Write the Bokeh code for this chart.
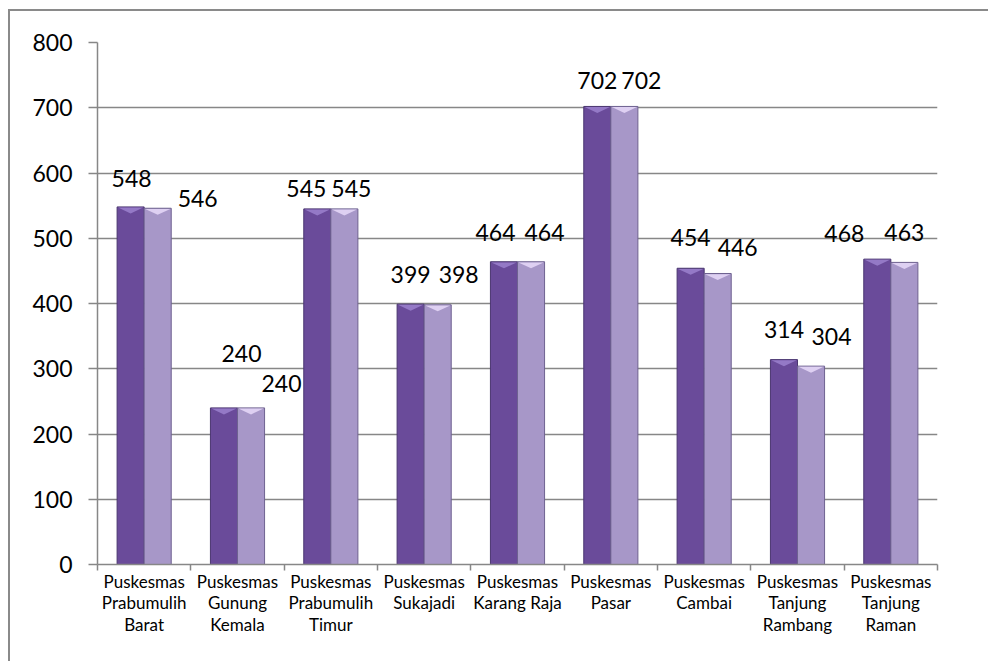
import numpy as np
from bokeh.plotting import figure
from bokeh.models import LinearAxis, FixedTicker, Range1d, ColumnDataSource
from bokeh.core.properties import value
from bokeh.embed import file_html
from bokeh.resources import INLINE

categories = [
    "Puskesmas\nPrabumulih\nBarat",
    "Puskesmas\nGunung\nKemala",
    "Puskesmas\nPrabumulih\nTimur",
    "Puskesmas\nSukajadi",
    "Puskesmas\nKarang Raja",
    "Puskesmas\nPasar",
    "Puskesmas\nCambai",
    "Puskesmas\nTanjung\nRambang",
    "Puskesmas\nTanjung\nRaman",
]
series1 = [548, 240, 545, 399, 464, 702, 454, 314, 468]
series2 = [546, 240, 545, 398, 464, 702, 446, 304, 463]
y_ticks = [0, 100, 200, 300, 400, 500, 600, 700, 800]

# label placement offsets (screen px), style only
label1_dx = [1, 17.5, -11, 0, -8.5, 0, 0, 0, -33]
label1_dy = [-28, -54, -20, -30, -29, -26, -31, -30, -26]
label2_dx = [40, 30.5, 7, 21, 13.5, 17, 20, 20.5, 0]
label2_dy = [-10, -24, -20, -30, -29, -26, -26, -30, -30]

FONT = "Lato"
GRAY = "#878787"
C1, C1_TOP, C1_LINE = "#6A4B9A", "#9479C6", "#4A3670"
C2, C2_TOP, C2_LINE = "#A797C8", "#DED0F2", "#6E6290"
BAR_W = 0.29

n = len(categories)
idx = np.arange(n)
x1 = idx + 0.5 - BAR_W / 2
x2 = idx + 0.5 + BAR_W / 2

p = figure(width=980, height=652, x_range=Range1d(0, n), y_range=Range1d(0, 800),
           output_backend="svg", toolbar_location=None, x_axis_type=None,
           min_border_left=87, min_border_right=53, min_border_top=31, min_border_bottom=99)
p.styles = {"margin-left": "8px", "margin-top": "9px",
            "border-top": "2px solid #8a8a8a", "border-left": "2px solid #8a8a8a"}
p.outline_line_color = None
p.background_fill_color = "white"
p.border_fill_color = "white"

# bars
p.vbar(x=x1, top=series1, width=BAR_W, fill_color=C1, line_color=C1_LINE, line_width=1)
p.vbar(x=x2, top=series2, width=BAR_W, fill_color=C2, line_color=C2_LINE, line_width=1)

# bevel highlights on tops
d = 10
def bevel(xc, tops):
    xs = [[x - BAR_W / 2 + 0.01, x + BAR_W / 2 - 0.01, x] for x in xc]
    ys = [[t - 1, t - 1, t - d] for t in tops]
    return xs, ys
bx, by = bevel(x1, series1)
p.patches(bx, by, fill_color=C1_TOP, line_color=None)
bx, by = bevel(x2, series2)
p.patches(bx, by, fill_color=C2_TOP, line_color=None)

# value labels
src1 = ColumnDataSource(dict(x=x1, y=series1, t=[str(v) for v in series1], dx=label1_dx, dy=label1_dy))
src2 = ColumnDataSource(dict(x=x2, y=series2, t=[str(v) for v in series2], dx=label2_dx, dy=label2_dy))
for src in (src1, src2):
    p.text(x="x", y="y", text="t", x_offset="dx", y_offset="dy", source=src,
           text_font=value(FONT), text_font_size="23px", text_color="black",
           text_align="center", text_baseline="middle")

# y axis
p.yaxis.ticker = FixedTicker(ticks=y_ticks)
p.yaxis.major_tick_out = 9
p.yaxis.major_tick_in = 0
p.yaxis.minor_tick_line_color = None
p.yaxis.axis_line_color = GRAY
p.yaxis.axis_line_width = 1.5
p.yaxis.major_tick_line_color = GRAY
p.yaxis.major_tick_line_width = 1.5
p.yaxis.major_label_standoff = 16
p.yaxis.major_label_text_font = FONT
p.yaxis.major_label_text_font_size = "23px"
p.yaxis.major_label_text_color = "black"

p.ygrid.ticker = FixedTicker(ticks=y_ticks)
p.ygrid.grid_line_color = GRAY
p.ygrid.grid_line_width = 1.5
p.xgrid.visible = False

# x axis: labels at category centers, tick marks (minor) at boundaries
centers = [i + 0.5 for i in range(n)]
ax = LinearAxis(ticker=FixedTicker(ticks=centers, minor_ticks=list(range(n + 1))),
                major_label_overrides={c: lab for c, lab in zip(centers, categories)},
                axis_line_color=GRAY, axis_line_width=1.5,
                major_tick_line_color=None, major_tick_out=0, major_tick_in=0,
                minor_tick_line_color=GRAY, minor_tick_line_width=1.5,
                minor_tick_out=6, minor_tick_in=0,
                major_label_standoff=0,
                major_label_text_font=FONT, major_label_text_font_size="17px",
                major_label_text_line_height=1.04,
                major_label_text_color="black")
p.add_layout(ax, "below")

open("out.html", "w").write(file_html(p, INLINE))
